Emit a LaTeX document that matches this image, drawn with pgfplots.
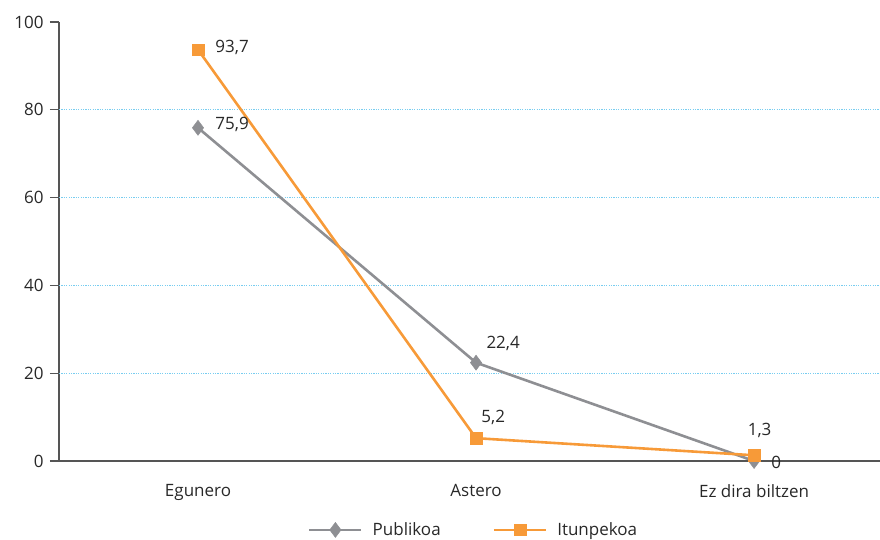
\documentclass[border=0pt]{standalone}
\usepackage{pgfplots}
\pgfplotsset{compat=1.18}
\usepackage{fontspec}
\setmainfont{Open Sans}
\definecolor{gline}{RGB}{142,143,147}
\definecolor{oline}{RGB}{247,154,56}
\definecolor{skyc}{RGB}{120,205,240}
\definecolor{axc}{RGB}{85,85,85}
\definecolor{txt}{RGB}{40,40,40}
\begin{document}
\begin{tikzpicture}[font=\fontsize{17bp}{20bp}\selectfont]
\useasboundingbox (-59bp,-79bp) rectangle (821bp,461bp);
\begin{axis}[
  at={(0,0)}, anchor=south west,
  scale only axis, width=821bp, height=439bp,
  xmin=-0.5, xmax=2.453, ymin=0, ymax=100,
  axis x line=bottom, axis y line=left,
  axis line style={-, draw=axc, line width=1.2bp},
  xtick={0,1,2}, xticklabels={Egunero,Astero,Ez dira biltzen},
  x tick label style={yshift=-11bp, text=txt},
  major x tick style={draw=none},
  extra x ticks={-0.5,0.5,1.5}, extra x tick labels={},
  extra x tick style={major tick length=9bp, tick align=outside, tick style={draw=axc, line width=1.2bp}},
  ytick={0,20,40,60,80,100},
  y tick label style={text=txt, xshift=-3bp},
  major y tick style={draw=axc, line width=1.2bp},
  major tick length=9bp, tick align=outside,
  /pgf/number format/assume math mode=true,
  legend style={at={(0.505,-0.157)}, anchor=center, draw=none, fill=none,
    legend columns=2,
    /tikz/every odd column/.append style={column sep=8bp},
    /tikz/every even column/.append style={column sep=50bp},
    text=txt},
  legend image code/.code={
    \draw[#1, mark repeat=2, mark phase=2] plot coordinates {(0bp,0bp) (26bp,0bp) (52bp,0bp)};
  },
  clip=false,
]
\draw[skyc, line width=1.2bp, dash pattern=on 1.2bp off 1.2bp] (axis cs:-0.5,20) -- (axis cs:2.453,20);
\draw[skyc, line width=1.2bp, dash pattern=on 1.2bp off 1.2bp] (axis cs:-0.5,40) -- (axis cs:2.453,40);
\draw[skyc, line width=1.2bp, dash pattern=on 1.2bp off 1.2bp] (axis cs:-0.5,60) -- (axis cs:2.453,60);
\draw[skyc, line width=1.2bp, dash pattern=on 1.2bp off 1.2bp] (axis cs:-0.5,80) -- (axis cs:2.453,80);
\addplot[gline, line width=2.6bp, mark=diamond*, mark size=7.5bp, mark options={fill=gline, draw=gline, line width=0.5bp}]
  coordinates {(0,75.9) (1,22.4) (2,0)};
\addlegendentry{Publikoa}
\addplot[oline, line width=2.6bp, mark=square*, mark size=5.8bp, mark options={fill=oline, draw=oline, line width=0.5bp}]
  coordinates {(0,93.7) (1,5.2) (2,1.3)};
\addlegendentry{Itunpekoa}
\node[anchor=west, text=txt] at (axis cs:0.05,76.6) {75,9};
\node[anchor=west, text=txt] at (axis cs:0.05,94.3) {93,7};
\node[anchor=west, text=txt] at (axis cs:1.025,26.7) {22,4};
\node[anchor=center, text=txt] at (axis cs:1.062,9.9) {5,2};
\node[anchor=center, text=txt] at (axis cs:2.02,7.0) {1,3};
\node[anchor=west, text=txt] at (axis cs:2.05,-0.3) {0};
\end{axis}
\end{tikzpicture}
\end{document}
